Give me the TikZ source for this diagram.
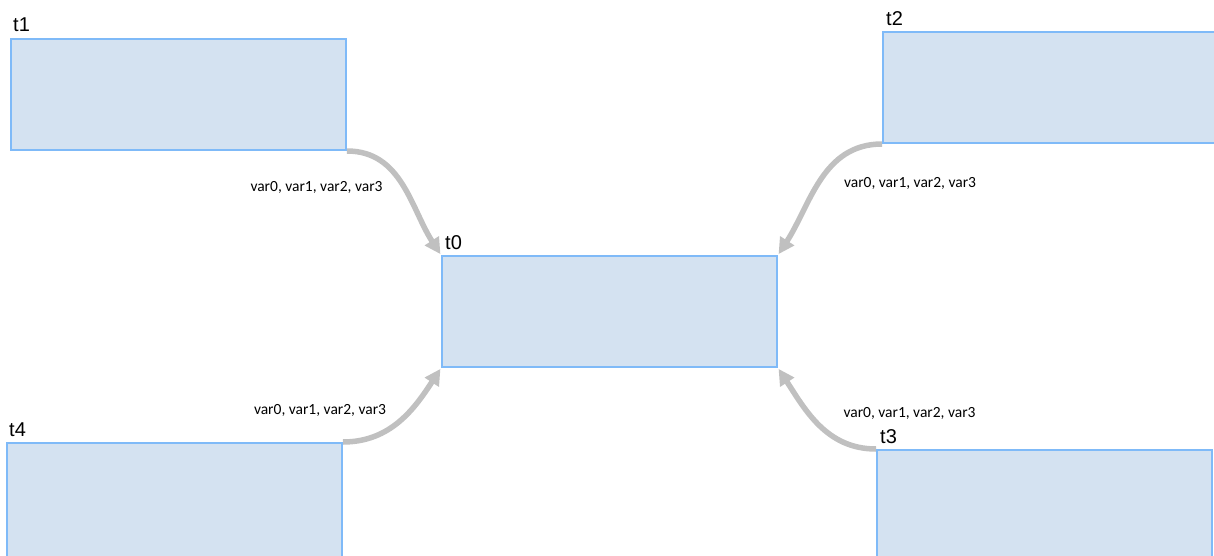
\documentclass[tikz,border=0pt]{standalone}
\usepackage{fontspec}
\setmainfont{Liberation Sans}
\newfontfamily\labelfont{Carlito}
\usetikzlibrary{arrows.meta}
\definecolor{boxfill}{RGB}{212,226,241}
\definecolor{boxline}{RGB}{127,186,248}
\definecolor{flowgray}{RGB}{192,192,192}
\begin{document}
\begin{tikzpicture}[x=1pt,y=-1pt,
  task/.style={draw=boxline,fill=boxfill,line width=2pt,rectangle,
    minimum width=335pt,minimum height=111pt,inner sep=0pt,anchor=north west},
  tasklabel/.style={anchor=base west,inner sep=0pt,font=\fontsize{20}{22}\selectfont},
  flow/.style={draw=flowgray,line width=5.5pt,
    -{Triangle[length=16pt,width=16pt]},shorten >=1pt},
  varlabel/.style={inner sep=0pt,font=\labelfont\fontsize{15.5}{17}\selectfont}]
\useasboundingbox (0,0) rectangle (1214,556);
\clip (0,0) rectangle (1214,556);

% task boxes
\node[task] (t1) at (10,38) {};
\node[task] (t0) at (441,255) {};
\node[task,minimum width=350pt] (t2) at (882,31) {};
\node[task,minimum height=120pt] (t4) at (6,442) {};
\node[task,minimum height=120pt] (t3) at (876,449) {};

% box titles
\node[tasklabel] (l1) at (13,32) {t1};
\node[tasklabel] (l2) at (886,26) {t2};
\node[tasklabel] (l0) at (445,249) {t0};
\node[tasklabel] (l4) at (9,436) {t4};
\node[tasklabel] (l3) at (880,443) {t3};

% data flows into t0
\draw[flow] (t1.south east) to[out=0,in=123] (t0.north west);
\draw[flow] (t2.south west) to[out=180,in=57] (t0.north east);
\draw[flow] (t4.north east) to[out=0,in=237] (t0.south west);
\draw[flow] (t3.north west) to[out=180,in=303] (t0.south east);

% flow labels
\node[varlabel] (v1) at (316.5,187) {var0, var1, var2, var3};
\node[varlabel] (v2) at (910,183) {var0, var1, var2, var3};
\node[varlabel] (v4) at (320,410) {var0, var1, var2, var3};
\node[varlabel] (v3) at (909.5,413) {var0, var1, var2, var3};
\end{tikzpicture}
\end{document}
